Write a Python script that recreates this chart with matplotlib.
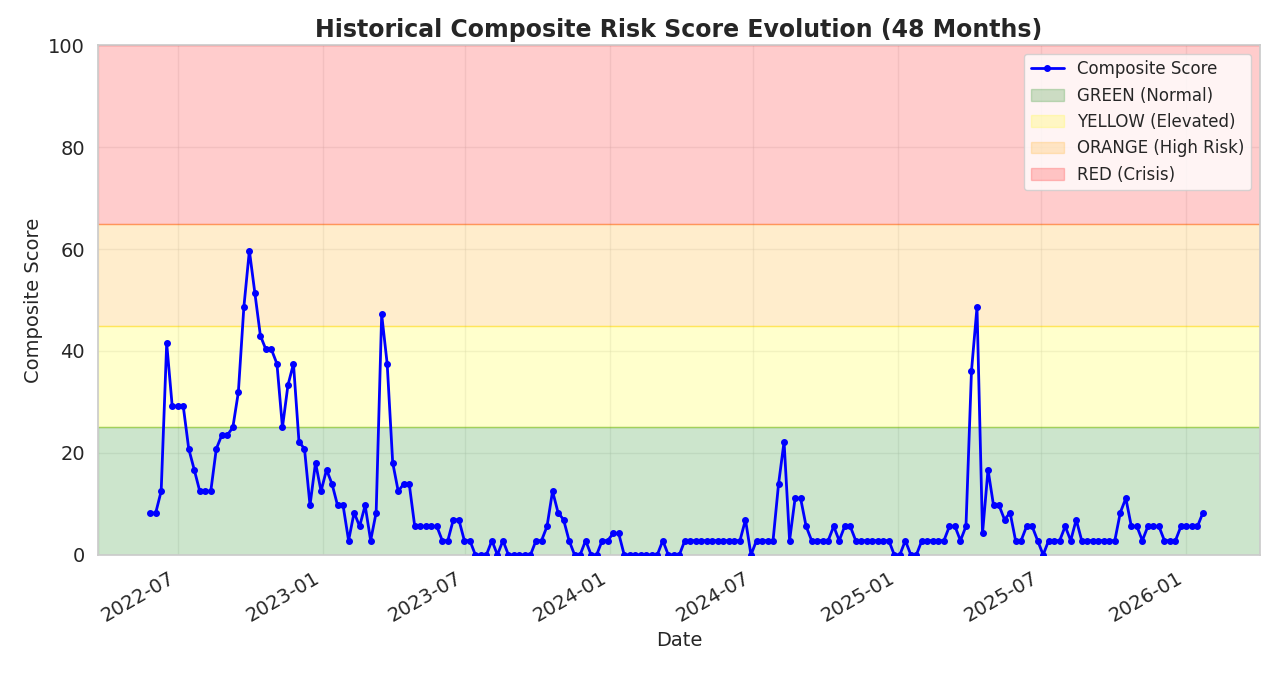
import numpy as np
import pandas as pd
import matplotlib
matplotlib.use('Agg')
import matplotlib.pyplot as plt
import matplotlib.dates as mdates
import seaborn as sns

sns.set_theme(style='whitegrid')

# weekly composite score readings
scores = (
    [8.2, 8.2, 12.5, 41.5, 29.2, 29.2, 29.2, 20.8, 16.7, 12.5, 12.5, 12.5, 20.8, 23.5,
     23.5, 25, 31.9, 48.6, 59.7, 51.4, 43, 40.3, 40.3, 37.5, 25, 33.3, 37.5, 22.2, 20.8,
     9.7, 18.1, 12.5, 16.7, 13.9, 9.7, 9.7, 2.8, 8.3, 5.6, 9.7, 2.8, 8.3]
    + [47.2, 37.5, 18.1, 12.5, 13.9, 13.9, 5.6, 5.6, 5.6, 5.6, 5.6,
       2.8, 2.8, 6.9, 6.9, 2.8, 2.8, 0, 0, 0, 2.8, 0, 2.8, 0, 0, 0, 0, 0,
       2.8, 2.8, 5.6, 12.5, 8.3, 6.9, 2.8, 0, 0, 2.8, 0, 0, 2.8, 2.8, 4.2, 4.2]
    + [0, 0, 0, 0, 0, 0, 0, 2.8, 0, 0, 0]
    + [2.8] * 11
    + [6.9, 0, 2.8, 2.8, 2.8, 2.8, 13.9, 22.2, 2.8, 11.1, 11.1, 5.6, 2.8, 2.8, 2.8, 2.8,
       5.6, 2.8, 5.6, 5.6, 2.8, 2.8, 2.8, 2.8, 2.8, 2.8, 2.8, 0, 0, 2.8, 0, 0,
       2.8, 2.8, 2.8, 2.8, 2.8, 5.6, 5.6, 2.8, 5.6, 36.1, 48.6, 4.2, 16.7, 9.7, 9.7,
       6.9, 8.3, 2.8, 2.8, 5.6, 5.6, 2.8, 0, 2.8, 2.8, 2.8, 5.6, 2.8, 6.9,
       2.8, 2.8, 2.8, 2.8, 2.8, 2.8, 2.8, 8.3, 11.1, 5.6, 5.6, 2.8, 5.6, 5.6, 5.6,
       2.8, 2.8, 2.8, 5.6, 5.6, 5.6, 5.6, 8.3]
)
dates = pd.date_range('2022-05-27', periods=len(scores), freq='7D')

zones = [(0, 25, 'green', 'GREEN (Normal)'),
         (25, 45, 'yellow', 'YELLOW (Elevated)'),
         (45, 65, 'orange', 'ORANGE (High Risk)'),
         (65, 100, 'red', 'RED (Crisis)')]

fig, ax = plt.subplots(figsize=(12.75, 6.75), dpi=100)
ax.plot(dates, scores, color='blue', marker='o', markersize=4, linewidth=2,
        label='Composite Score', zorder=3)
for lo, hi, col, lab in zones:
    ax.axhspan(lo, hi, color=col, alpha=0.2, label=lab, zorder=1)
    ax.axhline(hi, color=col, alpha=0.3, linewidth=1, zorder=1)
ax.grid(True, alpha=0.3, zorder=2)

ax.set_ylim(0, 100)
ax.set_xlim(pd.Timestamp('2022-03-22'), pd.Timestamp('2026-04-05'))
ax.xaxis.set_major_locator(mdates.MonthLocator(bymonth=[1, 7]))
ax.xaxis.set_major_formatter(mdates.DateFormatter('%Y-%m'))
plt.setp(ax.get_xticklabels(), rotation=30, ha='right')
ax.tick_params(labelsize=14)
ax.set_xlabel('Date', fontsize=14)
ax.set_ylabel('Composite Score', fontsize=14)
ax.set_title('Historical Composite Risk Score Evolution (48 Months)',
             fontsize=17, fontweight='bold')
ax.legend(loc='upper right', fontsize=12)
fig.subplots_adjust(left=0.077, right=0.988, top=0.933, bottom=0.178)
fig.savefig('out.png')
